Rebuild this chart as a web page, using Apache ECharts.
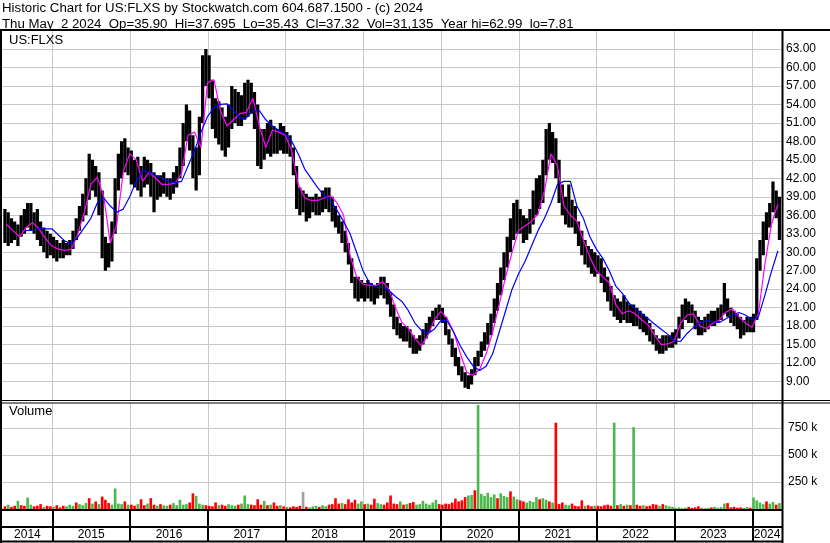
<!DOCTYPE html>
<html><head><meta charset="utf-8">
<script src="https://cdn.jsdelivr.net/npm/echarts@6/dist/echarts.min.js"></script>
<style>html,body{margin:0;padding:0;background:#fff}#c{width:830px;height:543px}</style>
</head><body><div id="c"></div>
<script>
// ---- data (half-month samples from ~May 2014) ----
const sampleStart = 2014.37;          // fractional year of first sample edge
const samplesPerYear = 24;            // price / volume samples
const maPerYear = 12;                 // moving-average samples
const priceHigh = [
37.0,36.5,35.5,35.0,34.5,36.0,37.0,38.0,38.0,36.5,
37.0,35.0,34.0,33.5,33.0,32.5,32.0,31.5,32.0,31.5,
32.0,33.5,35.5,37.5,39.5,42.0,46.0,45.0,44.0,43.0,
40.0,32.5,31.5,35.0,42.0,46.0,48.0,48.5,47.0,46.5,
45.0,45.5,44.0,45.5,45.0,44.5,43.0,42.5,42.5,43.0,
42.0,42.0,43.0,44.0,47.0,51.0,54.0,53.0,49.0,47.0,
52.0,62.0,63.0,62.0,58.0,55.0,54.5,53.5,52.0,54.0,
57.0,56.5,56.0,55.5,57.5,58.0,57.5,56.0,54.0,50.0,
50.0,51.0,51.5,50.5,50.0,51.0,50.5,49.5,49.0,47.0,
44.0,40.5,40.0,39.5,39.0,39.0,39.5,39.0,40.0,40.5,
40.5,39.0,37.5,36.0,35.0,33.5,31.5,29.0,26.0,26.0,
25.5,25.0,25.5,25.0,24.5,25.0,26.0,26.0,25.0,23.5,
21.5,19.5,18.5,18.0,18.0,17.5,16.5,16.0,16.5,17.5,
18.5,19.5,20.5,21.0,21.5,21.0,19.5,17.5,16.0,14.5,
13.0,11.5,10.5,10.0,11.0,13.0,14.0,15.5,17.0,18.5,
20.0,22.5,25.0,27.5,30.0,32.5,35.5,38.0,38.5,37.0,
36.0,35.5,37.0,40.0,42.0,42.5,45.0,50.0,51.0,49.5,
48.5,45.0,41.0,39.0,41.0,38.5,37.5,35.0,33.5,32.0,
31.0,30.5,30.0,29.5,29.0,27.5,26.0,24.5,23.0,22.5,
22.0,23.0,22.0,21.5,21.5,21.0,20.5,20.0,19.5,18.5,
17.5,16.5,16.0,16.5,16.5,16.5,17.0,17.5,19.5,21.5,
22.5,22.0,21.5,20.5,19.5,19.0,19.5,20.0,20.5,20.5,
21.0,21.5,25.0,22.5,21.0,20.5,20.0,19.5,19.0,19.5,
19.5,20.0,29.0,32.0,35.0,36.5,38.0,41.5,40.0,39.0
];
const priceLow = [
31.5,31.0,31.5,32.0,31.0,32.5,33.0,34.0,33.5,33.0,
32.0,31.0,30.0,29.0,29.5,29.0,28.5,29.0,29.0,29.5,
29.5,30.5,32.0,33.5,35.0,36.0,38.5,40.0,39.0,36.0,
29.0,27.0,27.5,28.5,33.0,40.0,42.0,43.0,42.5,41.0,
40.5,40.0,39.0,40.5,41.0,39.0,36.5,38.5,39.0,39.5,
39.0,38.5,39.5,40.5,42.0,44.0,48.0,46.5,42.0,40.0,
42.5,51.0,57.0,55.0,50.0,48.5,47.5,46.5,45.5,47.0,
50.0,51.0,50.5,50.5,51.5,52.0,52.5,50.0,44.0,43.5,
45.0,46.0,45.5,46.0,46.0,46.5,46.0,46.0,45.5,42.5,
37.0,36.0,36.5,35.0,35.5,36.5,36.0,36.0,36.5,37.0,
36.5,35.0,34.0,33.0,31.5,30.0,28.0,25.0,22.5,22.0,
22.5,22.0,22.5,22.0,21.5,22.5,23.0,22.5,21.5,19.5,
17.5,16.5,16.0,15.5,15.5,14.5,13.5,13.5,14.0,15.0,
16.0,17.0,18.0,19.0,19.0,18.5,16.5,15.0,13.0,11.5,
10.0,9.0,8.0,7.8,8.5,10.0,11.5,13.0,14.0,15.0,
16.5,18.5,20.5,23.0,25.5,27.5,30.0,32.0,33.0,33.0,
31.5,32.0,33.0,34.5,36.0,37.0,38.0,42.5,45.0,44.5,
42.0,38.0,36.0,34.5,34.0,34.0,33.0,31.0,29.5,28.0,
27.5,26.5,26.0,26.5,25.0,23.5,22.0,20.5,19.5,19.0,
18.5,19.0,18.5,18.5,18.0,18.0,17.5,17.0,16.5,15.5,
15.0,14.0,13.5,13.5,14.0,14.5,14.5,15.0,16.0,17.5,
19.0,18.5,18.5,17.5,16.5,16.5,17.0,17.5,18.0,18.0,
18.5,19.0,20.0,19.5,18.5,18.0,17.5,16.0,16.5,17.0,
17.0,17.0,19.0,27.0,29.5,32.0,34.0,36.5,35.5,32.0
];
const maFast = [
34.5,33.5,32.5,34.0,34.8,33.8,32.2,31.0,30.5,30.3,
30.5,33.0,36.5,41.0,42.2,39.0,31.5,34.5,43.0,46.0,
45.0,41.5,43.0,42.0,41.0,41.0,41.2,42.8,49.0,49.5,
47.0,57.5,58.0,53.0,50.5,51.5,52.5,52.7,55.0,50.5,
47.0,49.8,49.5,49.0,46.5,41.0,38.8,38.4,38.4,38.8,
39.2,38.0,36.0,29.5,26.0,24.8,24.6,24.6,25.2,24.0,
21.0,18.6,17.6,16.0,14.8,16.5,19.0,20.4,19.2,17.0,
13.6,10.5,10.0,11.0,13.5,17.0,21.5,26.0,30.0,33.5,
34.3,35.0,36.2,40.0,46.0,44.0,37.5,36.0,35.0,32.0,
29.2,27.0,26.0,25.0,21.5,20.0,20.5,20.0,19.0,18.2,
16.5,15.0,15.1,15.5,18.5,19.8,20.0,18.0,17.6,18.5,
19.0,20.3,20.8,19.5,18.5,17.8,20.0,28.0,34.5,37.8
];
const maSlow = [
null,null,null,33.5,33.6,33.8,33.8,33.8,32.8,31.8,
31.4,32.5,34.0,35.5,38.0,38.8,37.5,36.5,37.0,39.0,
41.5,43.3,43.0,42.5,42.0,41.5,41.3,41.5,44.0,46.5,
49.5,52.0,53.5,54.0,54.1,53.0,51.8,51.8,53.0,53.0,
51.5,50.5,49.8,49.2,48.0,46.0,43.5,42.0,40.5,39.2,
38.4,36.8,35.0,33.0,30.0,27.0,25.0,24.3,24.3,23.8,
22.8,22.0,20.5,18.5,17.3,16.8,17.5,18.9,18.8,17.0,
14.8,13.0,11.5,10.8,11.5,13.5,17.0,20.5,24.0,26.5,
28.5,31.0,33.5,35.5,38.0,41.0,41.5,41.5,37.5,35.5,
32.5,30.5,29.0,27.0,24.5,23.3,21.8,20.8,20.0,19.2,
18.3,17.5,16.7,15.6,15.5,16.8,17.8,18.6,18.9,18.7,
18.6,19.2,19.8,20.2,19.8,19.0,19.5,23.0,26.8,30.2
];
const volumeK = [
25,40,20,30,75,35,30,105,40,25,30,45,20,30,25,
20,35,15,30,25,40,30,60,45,35,55,100,50,70,45,115,85,55,40,190,50,45,70,40,
40,30,45,90,35,50,100,40,30,45,35,30,40,55,35,85,40,45,60,145,120,50,40,35,
30,25,60,35,40,30,45,35,30,40,50,125,45,40,35,90,40,75,35,40,60,30,35,25,
20,15,25,20,30,157,20,15,25,30,20,35,25,40,45,100,50,55,45,90,60,85,50,70,
45,50,40,95,55,45,40,60,125,50,45,70,40,45,55,65,40,45,75,50,40,60,85,45,
40,50,45,60,95,70,80,110,125,130,173,962,140,120,150,110,135,100,145,120,110,163,115,90,
80,70,60,75,65,110,90,100,85,70,60,798,45,60,40,35,50,30,25,80,30,35,25,30,
30,25,35,40,30,798,35,45,30,40,35,757,40,30,35,25,30,45,40,30,45,35,25,20,
10,15,8,12,20,10,15,25,12,8,10,15,20,12,18,50,55,15,20,12,15,10,18,12,
106,80,60,45,70,50,65,40,55
];
// u = up day (green), d = down day (red), n = unchanged (grey)
const volumeDir =
"duddudduud"+"dduddudddu"+"uuduuududu"+"ddduuuudud"+"dudduddudu"+"uduuuuuddu"+
"uudddduddu"+"uuduuudddd"+"ududdududd"+"ddnduuuduu"+"dddduddddu"+"ududduuddd"+
"ddududduuu"+"uuuudddddd"+"ddduuduuuu"+"uuduuuduud"+"duuuuduudu"+"ddduuddddu"+
"ddudddddud"+"udududdudd"+"dduduuuuuu"+"udddduuudu"+"uuuddddduu"+"duuuuduudu";
const yearBounds = [2015,2016,2017,2018,2019,2020,2021,2022,2023,2024];
const yearLabelPos = [2014.68,2015.5,2016.5,2017.5,2018.5,2019.5,2020.5,2021.5,2022.5,2023.5,2024.19];
const volumeTicks = [250,500,750];
const headerLine1 = "Historic Chart for US:FLXS by Stockwatch.com 604.687.1500 - (c) 2024";
const headerLine2 = "Thu May  2 2024  Op=35.90  Hi=37.695  Lo=35.43  Cl=37.32  Vol=31,135  Year hi=62.99  lo=7.81";
const symbolName = "US:FLXS";

// ---- chart ----
const xMin = 2014.353, xMax = 2024.382;
const FONT = '"Liberation Sans", Arial, sans-serif';
const tPrice = i => sampleStart + (i + 0.5) / samplesPerYear;
const tMa = j => sampleStart + (j + 0.5) / maPerYear;
const dirColor = {u: '#4cb84c', d: '#ff0000', n: '#a0a0a0'};
const gridGray = '#c8c8c8';

const chart = echarts.init(document.getElementById('c'), null, {renderer: 'canvas'});
const L = 2, W = 780;
function xAxisBase(gi) {
  return {
    type: 'value', gridIndex: gi, min: xMin, max: xMax,
    axisLine: {show: false}, axisLabel: {show: false},
    axisTick: {show: false, customValues: yearBounds},
    splitLine: {show: true, lineStyle: {color: gridGray, width: 1}}
  };
}
const option = {
  animation: false,
  backgroundColor: '#fff',
  grid: [
    {left: L, width: W, top: 30.5, height: 369.5},
    {left: L, width: W, top: 403, height: 106},
    {left: L, width: W, top: 510, height: 31}
  ],
  xAxis: [
    xAxisBase(0),
    xAxisBase(1),
    {
      type: 'value', gridIndex: 2, min: xMin, max: xMax, position: 'bottom',
      axisLine: {show: false},
      axisTick: {show: false, customValues: yearBounds},
      splitLine: {show: true, lineStyle: {color: '#000', width: 2}},
      axisLabel: {
        customValues: yearLabelPos, inside: true, margin: 0,
        formatter: v => String(Math.floor(v)),
        fontFamily: FONT, fontSize: 12, color: '#000'
      }
    }
  ],
  yAxis: [
    {
      type: 'value', gridIndex: 0, position: 'right', min: 6, max: 66, interval: 3,
      axisLine: {show: false}, axisTick: {show: false},
      axisLabel: {showMinLabel: false, showMaxLabel: false, margin: 4,
        formatter: v => v.toFixed(2), fontFamily: FONT, fontSize: 12, color: '#000'},
      splitLine: {show: true, lineStyle: {color: gridGray, width: 1}}
    },
    {
      type: 'value', gridIndex: 1, position: 'right', min: 0, max: 980,
      axisLine: {show: false},
      axisTick: {show: false, customValues: volumeTicks},
      axisLabel: {customValues: volumeTicks, margin: 6,
        formatter: v => v + ' k', fontFamily: FONT, fontSize: 12, color: '#000'},
      splitLine: {show: true, lineStyle: {color: gridGray, width: 1}}
    },
    {
      type: 'value', gridIndex: 2, min: 0, max: 1, show: false
    }
  ],
  series: [
    {
      type: 'custom', xAxisIndex: 0, yAxisIndex: 0, clip: true,
      data: priceHigh.map((h, i) => [tPrice(i), h, priceLow[i]]),
      encode: {x: 0, y: [1, 2]},
      renderItem: (params, api) => {
        const x = api.value(0);
        const a = api.coord([x, api.value(1)]);
        const b = api.coord([x, api.value(2)]);
        const w = api.size([1 / samplesPerYear, 0])[0];
        return {type: 'rect', shape: {x: a[0] - w / 2, y: a[1], width: w, height: b[1] - a[1]},
          style: {fill: '#000'}};
      }
    },
    {
      type: 'line', xAxisIndex: 0, yAxisIndex: 0, showSymbol: false, connectNulls: false,
      data: maFast.map((v, j) => [tMa(j), v]),
      lineStyle: {color: '#ff00ff', width: 1.2}, z: 3
    },
    {
      type: 'line', xAxisIndex: 0, yAxisIndex: 0, showSymbol: false, connectNulls: false,
      data: maSlow.map((v, j) => [tMa(j), v]),
      lineStyle: {color: '#0000ff', width: 1.2}, z: 3
    },
    {
      type: 'custom', xAxisIndex: 1, yAxisIndex: 1, clip: true,
      data: volumeK.map((v, i) => [tPrice(i), v, volumeDir[i]]),
      encode: {x: 0, y: 1},
      renderItem: (params, api) => {
        const x = api.value(0);
        const top = api.coord([x, api.value(1)]);
        const base = api.coord([x, 0]);
        const w = api.size([1 / samplesPerYear, 0])[0];
        const d = volumeDir[params.dataIndex];
        return {type: 'rect', shape: {x: top[0] - w / 2 + 0.3, y: top[1], width: w - 0.6, height: base[1] - top[1]},
          style: {fill: dirColor[d]}};
      }
    }
  ],
  graphic: [
    {type: 'text', left: 2, top: 1.5, style: {text: headerLine1, font: '13.25px ' + FONT, fill: '#000'}},
    {type: 'text', left: 2, top: 18, style: {text: headerLine2, font: '13.25px ' + FONT, fill: '#000'}},
    {type: 'text', left: 9, top: 34, style: {text: symbolName, font: '13px ' + FONT, fill: '#000'}, z: 10},
    {type: 'text', left: 9, top: 405, style: {text: 'Volume', font: '13px ' + FONT, fill: '#000'}, z: 10},
    {type: 'rect', shape: {x: 0, y: 29, width: 830, height: 2}, style: {fill: '#000'}, z: 20},
    {type: 'rect', shape: {x: 0, y: 29, width: 2, height: 514}, style: {fill: '#000'}, z: 20},
    {type: 'rect', shape: {x: 781.5, y: 29, width: 2, height: 514}, style: {fill: '#000'}, z: 20},
    {type: 'rect', shape: {x: 0, y: 400, width: 830, height: 1}, style: {fill: '#000'}, z: 20},
    {type: 'rect', shape: {x: 0, y: 402.5, width: 830, height: 1}, style: {fill: '#000'}, z: 20},
    {type: 'rect', shape: {x: 0, y: 509, width: 782, height: 2}, style: {fill: '#000'}, z: 20},
    {type: 'rect', shape: {x: 0, y: 526, width: 782, height: 2}, style: {fill: '#000'}, z: 20},
    {type: 'rect', shape: {x: 0, y: 540.5, width: 782, height: 2}, style: {fill: '#000'}, z: 20}
  ]
};
chart.setOption(option);
</script>
</body></html>
